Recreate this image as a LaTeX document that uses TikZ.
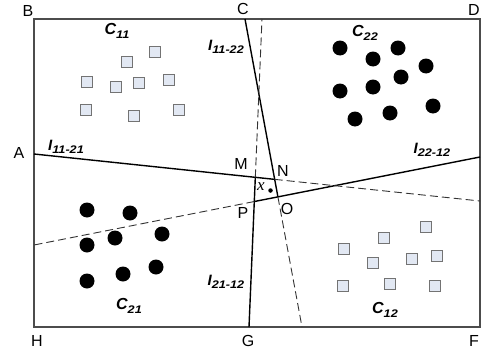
\documentclass[tikz,border=0pt]{standalone}
\usepackage{fontspec}
\setmainfont{Liberation Sans}
\newfontfamily\serifx{Liberation Serif}
\newcommand\lsub[1]{\raisebox{-0.45ex}{\fontsize{11}{11}\selectfont\bfseries\itshape\scalebox{1.15}[1]{#1}}}
\begin{document}
\begin{tikzpicture}[x=1pt,y=-1pt,
 frame/.style={draw=black!70, line width=1.3pt},
 sline/.style={draw=black, line width=1.4pt},
 dline/.style={draw=black!80, line width=0.9pt, dash pattern=on 8pt off 4pt},
 sq/.style={rectangle, draw=black!55, fill={rgb,255:red,226;green,232;blue,243}, line width=1.3pt, minimum size=10.5pt, inner sep=0pt},
 blob/.style={circle, fill=black, minimum size=15pt, inner sep=0pt},
 ptlab/.style={font=\fontsize{16}{16}\selectfont, inner sep=0pt},
 clab/.style={font=\fontsize{16}{16}\selectfont\bfseries\itshape, inner sep=0pt},
 llab/.style={font=\fontsize{15}{15}\selectfont\bfseries\itshape, inner sep=0pt},
]
\useasboundingbox (0,0) rectangle (482,356);
% frame corners
\coordinate (cB) at (34,19);
\coordinate (cD) at (480,19);
\coordinate (cF) at (480,327);
\coordinate (cH) at (34,327);
\draw[frame] (cB) -- (cD) -- (cF) -- (cH) -- cycle;

% line end points and intersections
\coordinate (pA) at (34,154);
\coordinate (pR) at (480,201);
\coordinate (pC) at (245,19);
\coordinate (pCb) at (302,327);
\coordinate (pG) at (249,327);
\coordinate (pGt) at (262,19);
\coordinate (pD) at (480,157);
\coordinate (pL) at (34,245);
\coordinate (pN) at (274.68,179.36);
\coordinate (pM) at (255.32,177.32);
\coordinate (pO) at (277.92,196.87);
\coordinate (pP) at (254.30,201.53);

% solid parts
\draw[sline] (pA) -- (pN);
\draw[sline] (pC) -- (pO);
\draw[sline] (pG) -- (pM);
\draw[sline] (pD) -- (pP);
% dashed parts
\draw[dline] (pN) -- (pR);
\draw[dline] (pO) -- (pCb);
\draw[dline] (pM) -- (pGt);
\draw[dline] (pP) -- (pL);

% corner / point labels
\node[ptlab] (lB) at (28,11) {B};
\node[ptlab] (lC) at (243,9) {C};
\node[ptlab] (lD) at (474,10) {D};
\node[ptlab] (lA) at (19,153) {A};
\node[ptlab] (lH) at (37,341) {H};
\node[ptlab] (lG) at (248,341) {G};
\node[ptlab] (lF) at (474,341) {F};
\node[ptlab] (lM) at (241,164) {M};
\node[ptlab] (lN) at (283,171) {N};
\node[ptlab] (lO) at (287,209) {O};
\node[ptlab] (lP) at (243,213) {P};
\node[inner sep=0pt,font=\fontsize{17}{17}\selectfont\serifx\itshape] (lx) at (261,187) {x};
\node[circle, fill=black, minimum size=4.5pt, inner sep=0pt] (xdot) at (270.5,190.5) {};

% line labels
\node[llab] (i1121) at (66,147) {I\lsub{11-21}};
\node[llab] (i1122) at (226,47) {I\lsub{11-22}};
\node[llab] (i2212) at (432,150) {I\lsub{22-12}};
\node[llab] (i2112) at (226,282) {I\lsub{21-12}};

% cluster labels
\node[clab] (c11) at (117,31) {C\lsub{11}};
\node[clab] (c22) at (365,33) {C\lsub{22}};
\node[clab] (c21) at (129,306) {C\lsub{21}};
\node[clab] (c12) at (385,310) {C\lsub{12}};

% C11 squares
\node[sq] (s11a) at (155,52) {};
\node[sq] (s11b) at (127,62) {};
\node[sq] (s11c) at (87,82) {};
\node[sq] (s11d) at (116,87) {};
\node[sq] (s11e) at (139,83) {};
\node[sq] (s11f) at (169,80) {};
\node[sq] (s11g) at (86,110) {};
\node[sq] (s11h) at (134,116) {};
\node[sq] (s11i) at (179,110) {};

% C12 squares
\node[sq] (s12a) at (426,227) {};
\node[sq] (s12b) at (384,238) {};
\node[sq] (s12c) at (344,249) {};
\node[sq] (s12d) at (373,263) {};
\node[sq] (s12e) at (412,259) {};
\node[sq] (s12f) at (437,256) {};
\node[sq] (s12g) at (343,286) {};
\node[sq] (s12h) at (390,284) {};
\node[sq] (s12i) at (435,286) {};

% C22 dots
\node[blob] (d22a) at (340,48) {};
\node[blob] (d22b) at (398,48) {};
\node[blob] (d22c) at (373,59) {};
\node[blob] (d22d) at (426,66) {};
\node[blob] (d22e) at (401,77) {};
\node[blob] (d22f) at (340,91) {};
\node[blob] (d22g) at (373,87) {};
\node[blob] (d22h) at (390,113) {};
\node[blob] (d22i) at (433,106) {};
\node[blob] (d22j) at (355,119) {};

% C21 dots
\node[blob] (d21a) at (87,210) {};
\node[blob] (d21b) at (130,213) {};
\node[blob] (d21c) at (87,245) {};
\node[blob] (d21d) at (115,238) {};
\node[blob] (d21e) at (162,234) {};
\node[blob] (d21f) at (87,281) {};
\node[blob] (d21g) at (123,274) {};
\node[blob] (d21h) at (156,267) {};
\end{tikzpicture}
\end{document}
